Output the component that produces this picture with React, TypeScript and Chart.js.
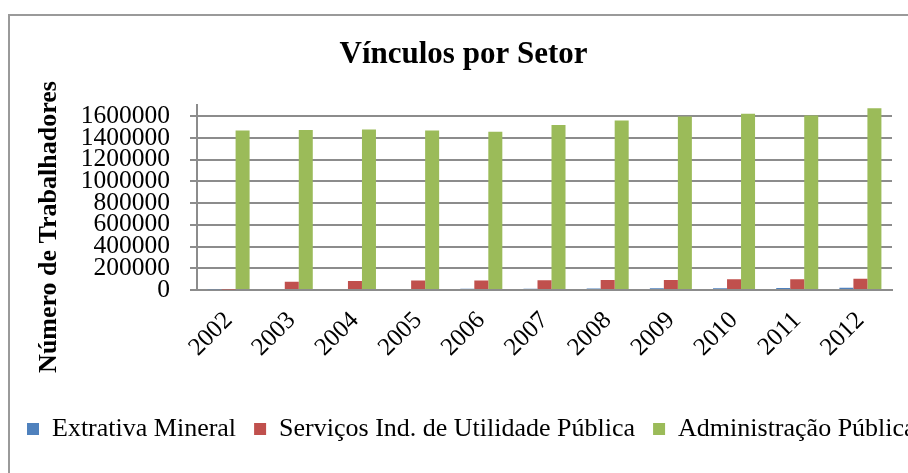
import React, { useEffect, useRef } from 'react';
import { Chart, registerables } from 'chart.js';

Chart.register(...registerables);

// ---- data ----
const years = ['2002', '2003', '2004', '2005', '2006', '2007', '2008', '2009', '2010', '2011', '2012'];
const extrativaMineral = [8000, 9000, 9500, 10000, 11000, 12000, 14000, 15000, 17000, 18000, 20000];
const servicosUtilidade = [4000, 76000, 82000, 88000, 88000, 90000, 92000, 93000, 98000, 99000, 104000];
const administracaoPublica = [1468000, 1471000, 1477000, 1468000, 1456000, 1517000, 1560000, 1597000, 1621000, 1606000, 1671000];
const yTickValues = [0, 200000, 400000, 600000, 800000, 1000000, 1200000, 1400000, 1600000];
const yAxisMax = 1700000;
const seriesNames = ['Extrativa Mineral', 'Serviços Ind. de Utilidade Pública', 'Administração Pública'];
const chartTitle = 'Vínculos por Setor';
const yAxisTitle = 'Número de Trabalhadores';

const COLORS = ['#4F81BD', '#C0504D', '#9BBB59'];
const FONT = '"Liberation Serif", "Times New Roman", serif';
const GRID = '#8c8c8c';
const CANVAS_W = 960;
const CANVAS_H = 465;
const FRAME_W = 911; // visible chart frame width (title is centred on it)

const framePlugin = {
  id: 'frame',
  beforeDraw(chart: any) {
    const { ctx, width, height } = chart;
    ctx.save();
    ctx.strokeStyle = '#9a9a9a';
    ctx.lineWidth = 2;
    ctx.beginPath();
    ctx.moveTo(1, height);
    ctx.lineTo(1, 7);
    ctx.lineTo(width, 7);
    ctx.stroke();
    ctx.restore();
  },
  afterLayout(chart: any) {
    // centre the title over the visible frame
    const t = chart.titleBlock;
    if (t) {
      t.left = 0;
      t.right = FRAME_W;
      t.width = FRAME_W;
    }
  },
};

const yTitlePlugin = {
  id: 'yTitle',
  afterDraw(chart: any) {
    const { ctx } = chart;
    ctx.save();
    ctx.translate(41, 219);
    ctx.rotate(-Math.PI / 2);
    ctx.font = `bold 26px ${FONT}`;
    ctx.fillStyle = '#000';
    ctx.textAlign = 'center';
    ctx.textBaseline = 'middle';
    ctx.fillText(yAxisTitle, 0, 0);
    ctx.restore();
  },
};

export default function App() {
  const ref = useRef<HTMLCanvasElement | null>(null);

  useEffect(() => {
    if (!ref.current) return;
    const chart = new Chart(ref.current, {
      type: 'bar',
      data: {
        labels: years,
        datasets: [
          { label: seriesNames[0], data: extrativaMineral, backgroundColor: COLORS[0], borderWidth: 0 },
          { label: seriesNames[1], data: servicosUtilidade, backgroundColor: COLORS[1], borderWidth: 0 },
          { label: seriesNames[2], data: administracaoPublica, backgroundColor: COLORS[2], borderWidth: 0 },
        ],
      },
      options: {
        responsive: false,
        animation: false,
        devicePixelRatio: 1,
        layout: { padding: { left: 1, right: 0, top: 0, bottom: 21 } },
        datasets: { bar: { categoryPercentage: 0.665, barPercentage: 1 } },
        plugins: {
          tooltip: { enabled: false },
          title: {
            display: true,
            text: chartTitle,
            color: '#000',
            font: { family: FONT, size: 31, weight: 'bold' },
            padding: { top: 28, bottom: 32 },
          },
          legend: {
            position: 'bottom',
            align: 'start',
            labels: {
              boxWidth: 12,
              boxHeight: 12,
              padding: 18,
              color: '#000',
              font: { family: FONT, size: 26 },
            },
          },
        },
        scales: {
          x: {
            grid: { display: false },
            border: { display: true, color: GRID, width: 2 },
            ticks: {
              color: '#000',
              font: { family: FONT, size: 25 },
              minRotation: 45,
              maxRotation: 45,
              autoSkip: false,
              padding: 8,
            },
            afterFit(scale: any) {
              scale.height = 108;
            },
          },
          y: {
            min: 0,
            max: yAxisMax,
            grid: { color: GRID, lineWidth: 2, drawTicks: true, tickLength: 7 },
            border: { display: true, color: GRID, width: 2 },
            ticks: {
              color: '#000',
              font: { family: FONT, size: 25.5 },
              padding: 20,
              autoSkip: false,
              callback: (v: any) => String(v),
            },
            afterBuildTicks(scale: any) {
              scale.ticks = yTickValues.map((v) => ({ value: v }));
            },
            afterFit(scale: any) {
              scale.width = 188;
            },
          },
          yRight: {
            type: 'linear',
            position: 'right',
            display: true,
            grid: { display: false },
            border: { display: false },
            ticks: { display: false },
            afterFit(scale: any) {
              scale.width = CANVAS_W - 884;
            },
          },
        },
      } as any,
      plugins: [framePlugin, yTitlePlugin],
    });
    return () => chart.destroy();
  }, []);

  return (
    <div style={{ position: 'fixed', left: 8, top: 8, width: 900, height: CANVAS_H, overflow: 'hidden', background: '#fff' }}>
      <canvas ref={ref} width={CANVAS_W} height={CANVAS_H} />
    </div>
  );
}
